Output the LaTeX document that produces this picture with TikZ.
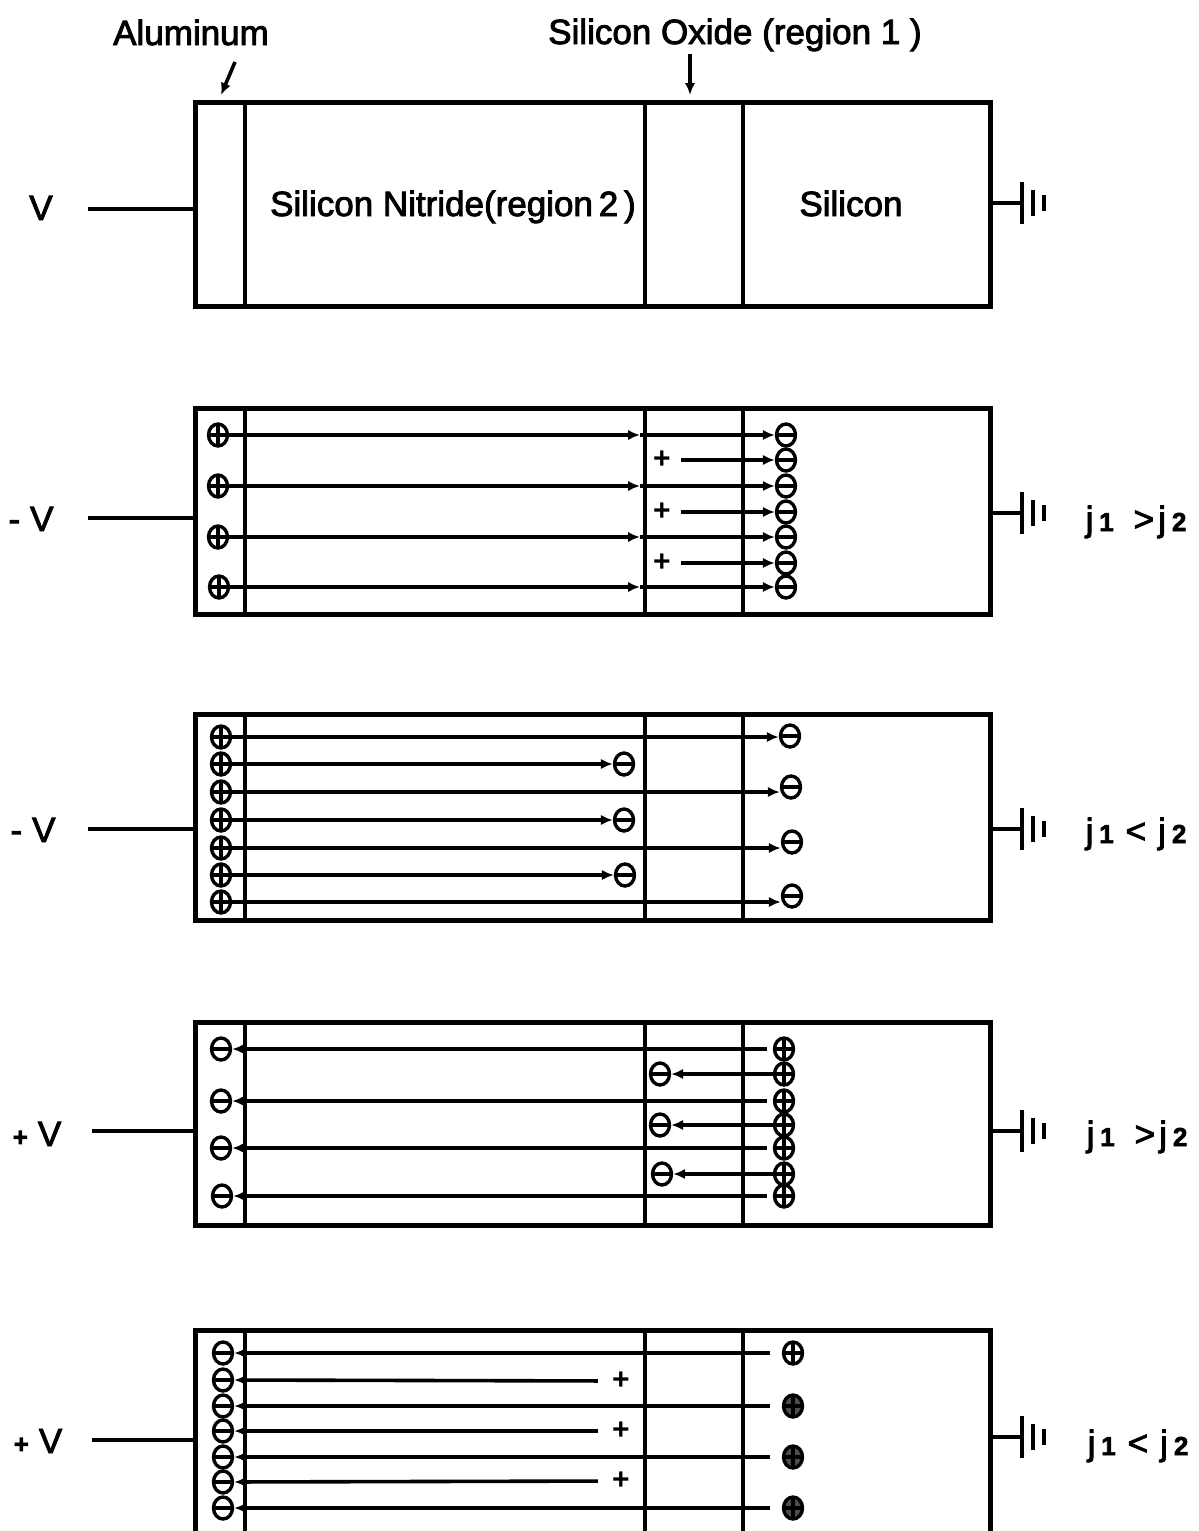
\documentclass[tikz,border=0pt]{standalone}
\usepackage{fontspec}
\setmainfont{Liberation Sans}
\newfontfamily\lblfont[FakeBold=2.5]{Liberation Sans}
\usetikzlibrary{arrows.meta,shapes.geometric}
\newcommand\dg[1]{{\fontsize{13}{13}\selectfont\bfseries #1}}
\newcommand\cell[2]{%
  \draw[boxl] (195,#1) rectangle (990,#2);
  \draw[innl] (245,#1) -- (245,#2) (645,#1) -- (645,#2) (743,#1) -- (743,#2);}
\begin{document}
\begin{tikzpicture}[x=0.5pt,y=-0.5pt,
  boxl/.style={line width=2.5pt},
  innl/.style={line width=1.6pt},
  wire/.style={line width=1.9pt},
  arr/.style={line width=1.8pt,-{Latex[length=6pt,width=5.2pt]}},
  chg/.style={ellipse,draw,line width=1.7pt,minimum width=9.5pt,minimum height=11pt,inner sep=0pt},
  poschg/.style={chg,path picture={\draw[line width=1.7pt] (path picture bounding box.north)--(path picture bounding box.south) (path picture bounding box.west)--(path picture bounding box.east);}},
  negchg/.style={chg,path picture={\draw[line width=1.7pt] (path picture bounding box.west)--(path picture bounding box.east);}},
  plussign/.style={inner sep=0pt,font=\fontsize{15}{15}\selectfont\bfseries},
  lab/.style={anchor=base,inner sep=0pt,font=\lblfont\fontsize{17.5}{20}\selectfont},
  gnd/.pic={\draw[line width=2.1pt] (0,-21) -- (0,21);
            \draw[line width=1.9pt] (11,-13) -- (11,13);
            \draw[line width=1.7pt] (22,-8) -- (22,8);}
]
\useasboundingbox (0,0) rectangle (1199,1531);

% ---------- panel 1 ----------
\cell{102}{306}
\node[lab] (tAl) at (191,45) {Aluminum};
\node[lab] (tOx) at (735,44) {Silicon Oxide (region 1 )};
\node[lab] (tN) at (453,216) {Silicon Nitride(region\,2\,)};
\node[lab] (tSi) at (851,216) {Silicon};
\node[lab] (tV1) at (41,220) {V};
\coordinate (al0) at (235,62); \coordinate (al1) at (221,95);
\draw[arr] (al0) -- (al1);
\coordinate (ox0) at (690,54); \coordinate (ox1) at (690,95);
\draw[arr] (ox0) -- (ox1);
\coordinate (w1) at (88,209); \coordinate (e1) at (195,209);
\draw[wire] (w1) -- (e1);
\coordinate (r1) at (990,203); \coordinate (g1) at (1022,203);
\draw[wire] (r1) -- (g1); \pic at (g1) {gnd};

% ---------- panel 2 ----------
\cell{408}{614}
\node[lab] (tV2) at (31,531) {-\hspace{5pt}V};
\coordinate (w2) at (88,518); \coordinate (e2) at (195,518);
\draw[wire] (w2) -- (e2);
\coordinate (r2) at (990,513); \coordinate (g2) at (1022,513);
\draw[wire] (r2) -- (g2); \pic at (g2) {gnd};
\node[lab] (j2) at (1136,531) {j\,\dg{1}\hspace{10pt}>\hspace{2pt}j\hspace{3pt}\dg{2}};
\node[poschg] (p2a) at (218,435) {};
\node[poschg] (p2b) at (218,486) {};
\node[poschg] (p2c) at (218,537) {};
\node[poschg] (p2d) at (219,587) {};
\node[negchg] (n2a) at (786,435) {};
\node[negchg] (n2b) at (786,460) {};
\node[negchg] (n2c) at (786,486) {};
\node[negchg] (n2d) at (786,512) {};
\node[negchg] (n2e) at (786,537) {};
\node[negchg] (n2f) at (786,563) {};
\node[negchg] (n2g) at (786,587) {};
\node[plussign] (s2a) at (662,460) {+};
\node[plussign] (s2b) at (662,512) {+};
\node[plussign] (s2c) at (662,563) {+};
\coordinate (k2a) at (640,435); \coordinate (k2b) at (640,486);
\coordinate (k2c) at (640,537); \coordinate (k2d) at (640,587);
\draw[arr] (p2a) -- (k2a); \draw[arr] (k2a) -- (n2a);
\draw[arr] (p2b) -- (k2b); \draw[arr] (k2b) -- (n2c);
\draw[arr] (p2c) -- (k2c); \draw[arr] (k2c) -- (n2e);
\draw[arr] (p2d) -- (k2d); \draw[arr] (k2d) -- (n2g);
\draw[arr,shorten <=5pt] (s2a) -- (n2b);
\draw[arr,shorten <=5pt] (s2b) -- (n2d);
\draw[arr,shorten <=5pt] (s2c) -- (n2f);

% ---------- panel 3 ----------
\cell{714}{920}
\node[lab] (tV3) at (33,842) {-\hspace{5pt}V};
\coordinate (w3) at (88,829); \coordinate (e3) at (195,829);
\draw[wire] (w3) -- (e3);
\coordinate (r3) at (990,829); \coordinate (g3) at (1022,829);
\draw[wire] (r3) -- (g3); \pic at (g3) {gnd};
\node[lab] (j3) at (1136,843) {j\,\dg{1}\hspace{6pt}<\hspace{6pt}j\hspace{3pt}\dg{2}};
\node[poschg] (p3a) at (221,737) {};
\node[poschg] (p3b) at (221,764) {};
\node[poschg] (p3c) at (221,792) {};
\node[poschg] (p3d) at (221,820) {};
\node[poschg] (p3e) at (221,848) {};
\node[poschg] (p3f) at (221,875) {};
\node[poschg] (p3g) at (221,902) {};
\node[negchg] (m3a) at (624,764) {};
\node[negchg] (m3b) at (624,820) {};
\node[negchg] (m3c) at (625,875) {};
\node[negchg] (n3a) at (790,736) {};
\node[negchg] (n3b) at (791,787) {};
\node[negchg] (n3c) at (792,842) {};
\node[negchg] (n3d) at (792,896) {};
\draw[arr] (p3a) -- (p3a -| n3a.west);
\draw[arr] (p3c) -- (p3c -| n3b.west);
\draw[arr] (p3e) -- (p3e -| n3c.west);
\draw[arr] (p3g) -- (p3g -| n3d.west);
\draw[arr] (p3b) -- (m3a);
\draw[arr] (p3d) -- (m3b);
\draw[arr] (p3f) -- (m3c);

% ---------- panel 4 ----------
\cell{1022}{1225}
\node[lab] (tV4) at (37,1146) {\dg{+}\hspace{5pt}V};
\coordinate (w4) at (92,1131); \coordinate (e4) at (195,1131);
\draw[wire] (w4) -- (e4);
\coordinate (r4) at (990,1131); \coordinate (g4) at (1022,1131);
\draw[wire] (r4) -- (g4); \pic at (g4) {gnd};
\node[lab] (j4) at (1137,1146) {j\,\dg{1}\hspace{10pt}>\hspace{2pt}j\hspace{3pt}\dg{2}};
\node[negchg] (n4a) at (221,1049) {};
\node[negchg] (n4b) at (221,1101) {};
\node[negchg] (n4c) at (221,1148) {};
\node[negchg] (n4d) at (222,1196) {};
\node[poschg] (p4a) at (784,1049) {};
\node[poschg] (p4b) at (784,1074) {};
\node[poschg] (p4c) at (784,1101) {};
\node[poschg] (p4d) at (784,1125) {};
\node[poschg] (p4e) at (784,1148) {};
\node[poschg] (p4f) at (784,1174) {};
\node[poschg] (p4g) at (784,1196) {};
\node[negchg] (m4a) at (660,1074) {};
\node[negchg] (m4b) at (660,1125) {};
\node[negchg] (m4c) at (662,1174) {};
\draw[arr,shorten <=3pt] (p4a) -- (n4a);
\draw[arr,shorten <=3pt] (p4c) -- (n4b);
\draw[arr,shorten <=3pt] (p4e) -- (n4c);
\draw[arr,shorten <=3pt] (p4g) -- (n4d);
\draw[arr] (p4b) -- (m4a);
\draw[arr] (p4d) -- (m4b);
\draw[arr] (p4f) -- (m4c);

% ---------- panel 5 ----------
\draw[boxl] (195,1531) -- (195,1330) -- (990,1330) -- (990,1531);
\draw[innl] (245,1330) -- (245,1531) (645,1330) -- (645,1531) (743,1330) -- (743,1531);
\node[lab] (tV5) at (38,1453) {\dg{+}\hspace{5pt}V};
\coordinate (w5) at (92,1440); \coordinate (e5) at (195,1440);
\draw[wire] (w5) -- (e5);
\coordinate (r5) at (990,1437); \coordinate (g5) at (1022,1437);
\draw[wire] (r5) -- (g5); \pic at (g5) {gnd};
\node[lab] (j5) at (1138,1455) {j\,\dg{1}\hspace{6pt}<\hspace{6pt}j\hspace{3pt}\dg{2}};
\node[negchg] (n5a) at (223,1353) {};
\node[negchg] (n5b) at (223,1380) {};
\node[negchg] (n5c) at (223,1406) {};
\node[negchg] (n5d) at (223,1431) {};
\node[negchg] (n5e) at (223,1457) {};
\node[negchg] (n5f) at (223,1482) {};
\node[negchg] (n5g) at (223,1508) {};
\node[poschg] (p5a) at (793,1353) {};
\node[poschg,fill=black!70] (p5b) at (793,1406) {};
\node[poschg,fill=black!70] (p5c) at (793,1457) {};
\node[poschg,fill=black!70] (p5d) at (793,1508) {};
\node[plussign] (s5a) at (621,1381) {+};
\node[plussign] (s5b) at (621,1431) {+};
\node[plussign] (s5c) at (621,1481) {+};
\draw[arr,shorten <=6pt] (p5a) -- (n5a);
\draw[arr,shorten <=6pt] (p5b) -- (n5c);
\draw[arr,shorten <=6pt] (p5c) -- (n5e);
\draw[arr,shorten <=6pt] (p5d) -- (n5g);
\draw[arr,shorten <=7pt] (s5a) -- (n5b);
\draw[arr,shorten <=7pt] (s5b) -- (n5d);
\draw[arr,shorten <=7pt] (s5c) -- (n5f);
\end{tikzpicture}
\end{document}
